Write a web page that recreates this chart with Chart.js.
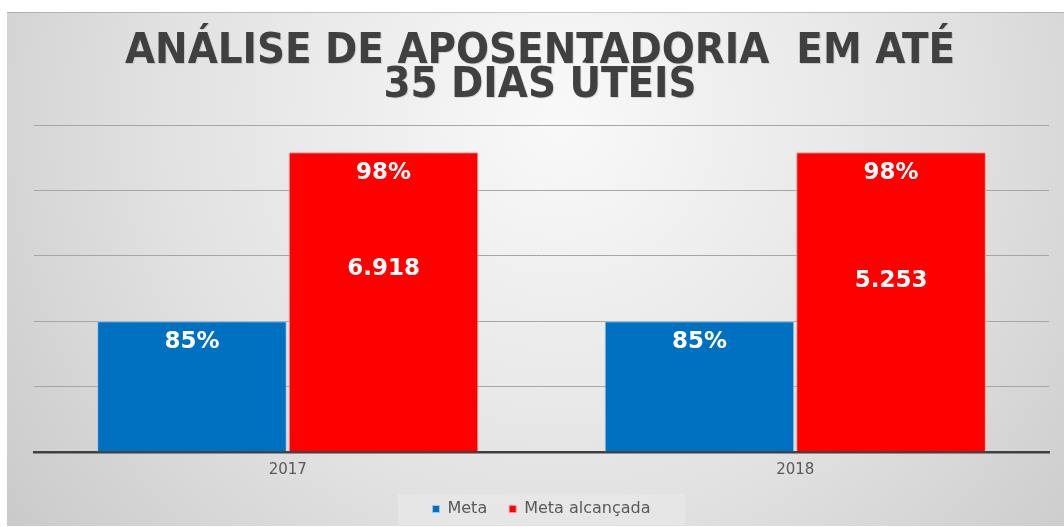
<!DOCTYPE html>
<html>
<head>
<meta charset="utf-8">
<script src="https://cdn.jsdelivr.net/npm/chart.js@4"></script>
<style>
  html,body{margin:0;padding:0;background:#fff;}
  #wrap{width:1064px;height:527px;position:relative;}
</style>
</head>
<body>
<div id="wrap"><canvas id="c" width="1064" height="527"></canvas></div>
<script>
// ---- data ----
const categories = ['2017', '2018'];
const seriesNames = ['Meta', 'Meta alcançada'];
const metaHeights = [40, 40];            // bar heights as drawn (0-100 grid)
const alcancadaHeights = [91.7, 91.7];
const metaLabels = ['85%', '85%'];
const alcancadaLabels = ['98%', '98%'];
const processosLabels = ['6.918', '5.253'];
const titleLines = ['ANÁLISE DE APOSENTADORIA  EM ATÉ', '35 DIAS ÚTEIS'];

const countLabelY = [56.0, 52.3]; // label anchor in axis units

const bgPlugin = {
  id: 'bg',
  beforeDraw(chart) {
    const ctx = chart.ctx;
    ctx.save();
    ctx.fillStyle = '#ffffff';
    ctx.fillRect(0, 0, chart.width, chart.height);
    const x0 = 7, y0 = 12, x1 = chart.width, y1 = chart.height - 1;
    const g = ctx.createRadialGradient(560, 120, 20, 560, 120, 760);
    g.addColorStop(0, '#f8f8f8');
    g.addColorStop(0.5, '#e2e2e2');
    g.addColorStop(1, '#c4c4c4');
    ctx.fillStyle = g;
    ctx.fillRect(x0, y0, x1 - x0, y1 - y0);
    ctx.fillStyle = 'rgba(0,0,0,0.18)';
    ctx.fillRect(x0, y0, x1 - x0, 1);
    // legend background box
    ctx.fillStyle = 'rgba(235,235,235,0.55)';
    ctx.fillRect(398, 494, 287, 31);
    // title
    ctx.textAlign = 'center';
    ctx.textBaseline = 'alphabetic';
    ctx.font = "bold 42px 'Liberation Sans Narrow', 'DejaVu Sans Condensed', sans-serif";
    const w1 = ctx.measureText(titleLines[0]).width;
    const sx = 830 / w1;
    const lines = [[titleLines[0], 63], [titleLines[1], 97]];
    lines.forEach(([t, y]) => {
      ctx.save();
      ctx.translate(540, y);
      ctx.scale(sx, 1);
      ctx.fillStyle = 'rgba(0,0,0,0.12)';
      ctx.fillText(t, 1, 1);
      ctx.fillStyle = '#404040';
      ctx.fillText(t, 0, 0);
      ctx.restore();
    });
    ctx.restore();
  }
};

const labelPlugin = {
  id: 'barLabels',
  afterDatasetsDraw(chart) {
    const ctx = chart.ctx;
    const yScale = chart.scales.y;
    ctx.save();
    ctx.fillStyle = '#ffffff';
    ctx.textAlign = 'center';
    ctx.textBaseline = 'middle';
    ctx.font = "bold 23px 'DejaVu Sans', sans-serif";
    const m0 = chart.getDatasetMeta(0), m1 = chart.getDatasetMeta(1);
    m0.data.forEach((bar, i) => {
      ctx.fillText(metaLabels[i], bar.x, bar.y + 21);
    });
    m1.data.forEach((bar, i) => {
      ctx.fillText(alcancadaLabels[i], bar.x, bar.y + 21);
      ctx.fillText(processosLabels[i], bar.x, yScale.getPixelForValue(countLabelY[i]));
    });
    ctx.restore();
  }
};

new Chart(document.getElementById('c'), {
  type: 'bar',
  data: {
    labels: categories,
    datasets: [
      {
        label: seriesNames[0],
        data: metaHeights,
        backgroundColor: '#0070C0',
        borderColor: 'rgba(160,200,235,0.9)',
        borderWidth: 1,
        categoryPercentage: 0.755,
        barPercentage: 0.99
      },
      {
        label: seriesNames[1],
        data: alcancadaHeights,
        backgroundColor: '#FF0000',
        borderColor: 'rgba(255,150,150,0.9)',
        borderWidth: 1,
        categoryPercentage: 0.755,
        barPercentage: 0.99
      }
    ]
  },
  options: {
    responsive: false,
    animation: false,
    devicePixelRatio: 1,
    layout: { padding: { top: 125, left: 34, right: 15, bottom: 0 } },
    plugins: {
      title: { display: false },
      tooltip: { enabled: false },
      legend: {
        display: true,
        position: 'bottom',
        labels: {
          color: '#595959',
          font: { family: "'DejaVu Sans', sans-serif", size: 16 },
          boxWidth: 7,
          boxHeight: 7,
          padding: 22
        }
      }
    },
    scales: {
      x: {
        grid: { display: false, drawTicks: false },
        border: { display: true, color: '#404040', width: 2.5 },
        ticks: {
          color: '#595959',
          font: { family: "'DejaVu Sans', sans-serif", size: 15 },
          padding: 9
        },
        afterFit(s) { s.height = 27; }
      },
      y: {
        min: 0,
        max: 100,
        ticks: { display: false, stepSize: 20 },
        grid: { color: '#a6a6a6', lineWidth: 1, drawTicks: false },
        border: { display: false }
      }
    }
  },
  plugins: [bgPlugin, labelPlugin]
});
</script>
</body>
</html>
